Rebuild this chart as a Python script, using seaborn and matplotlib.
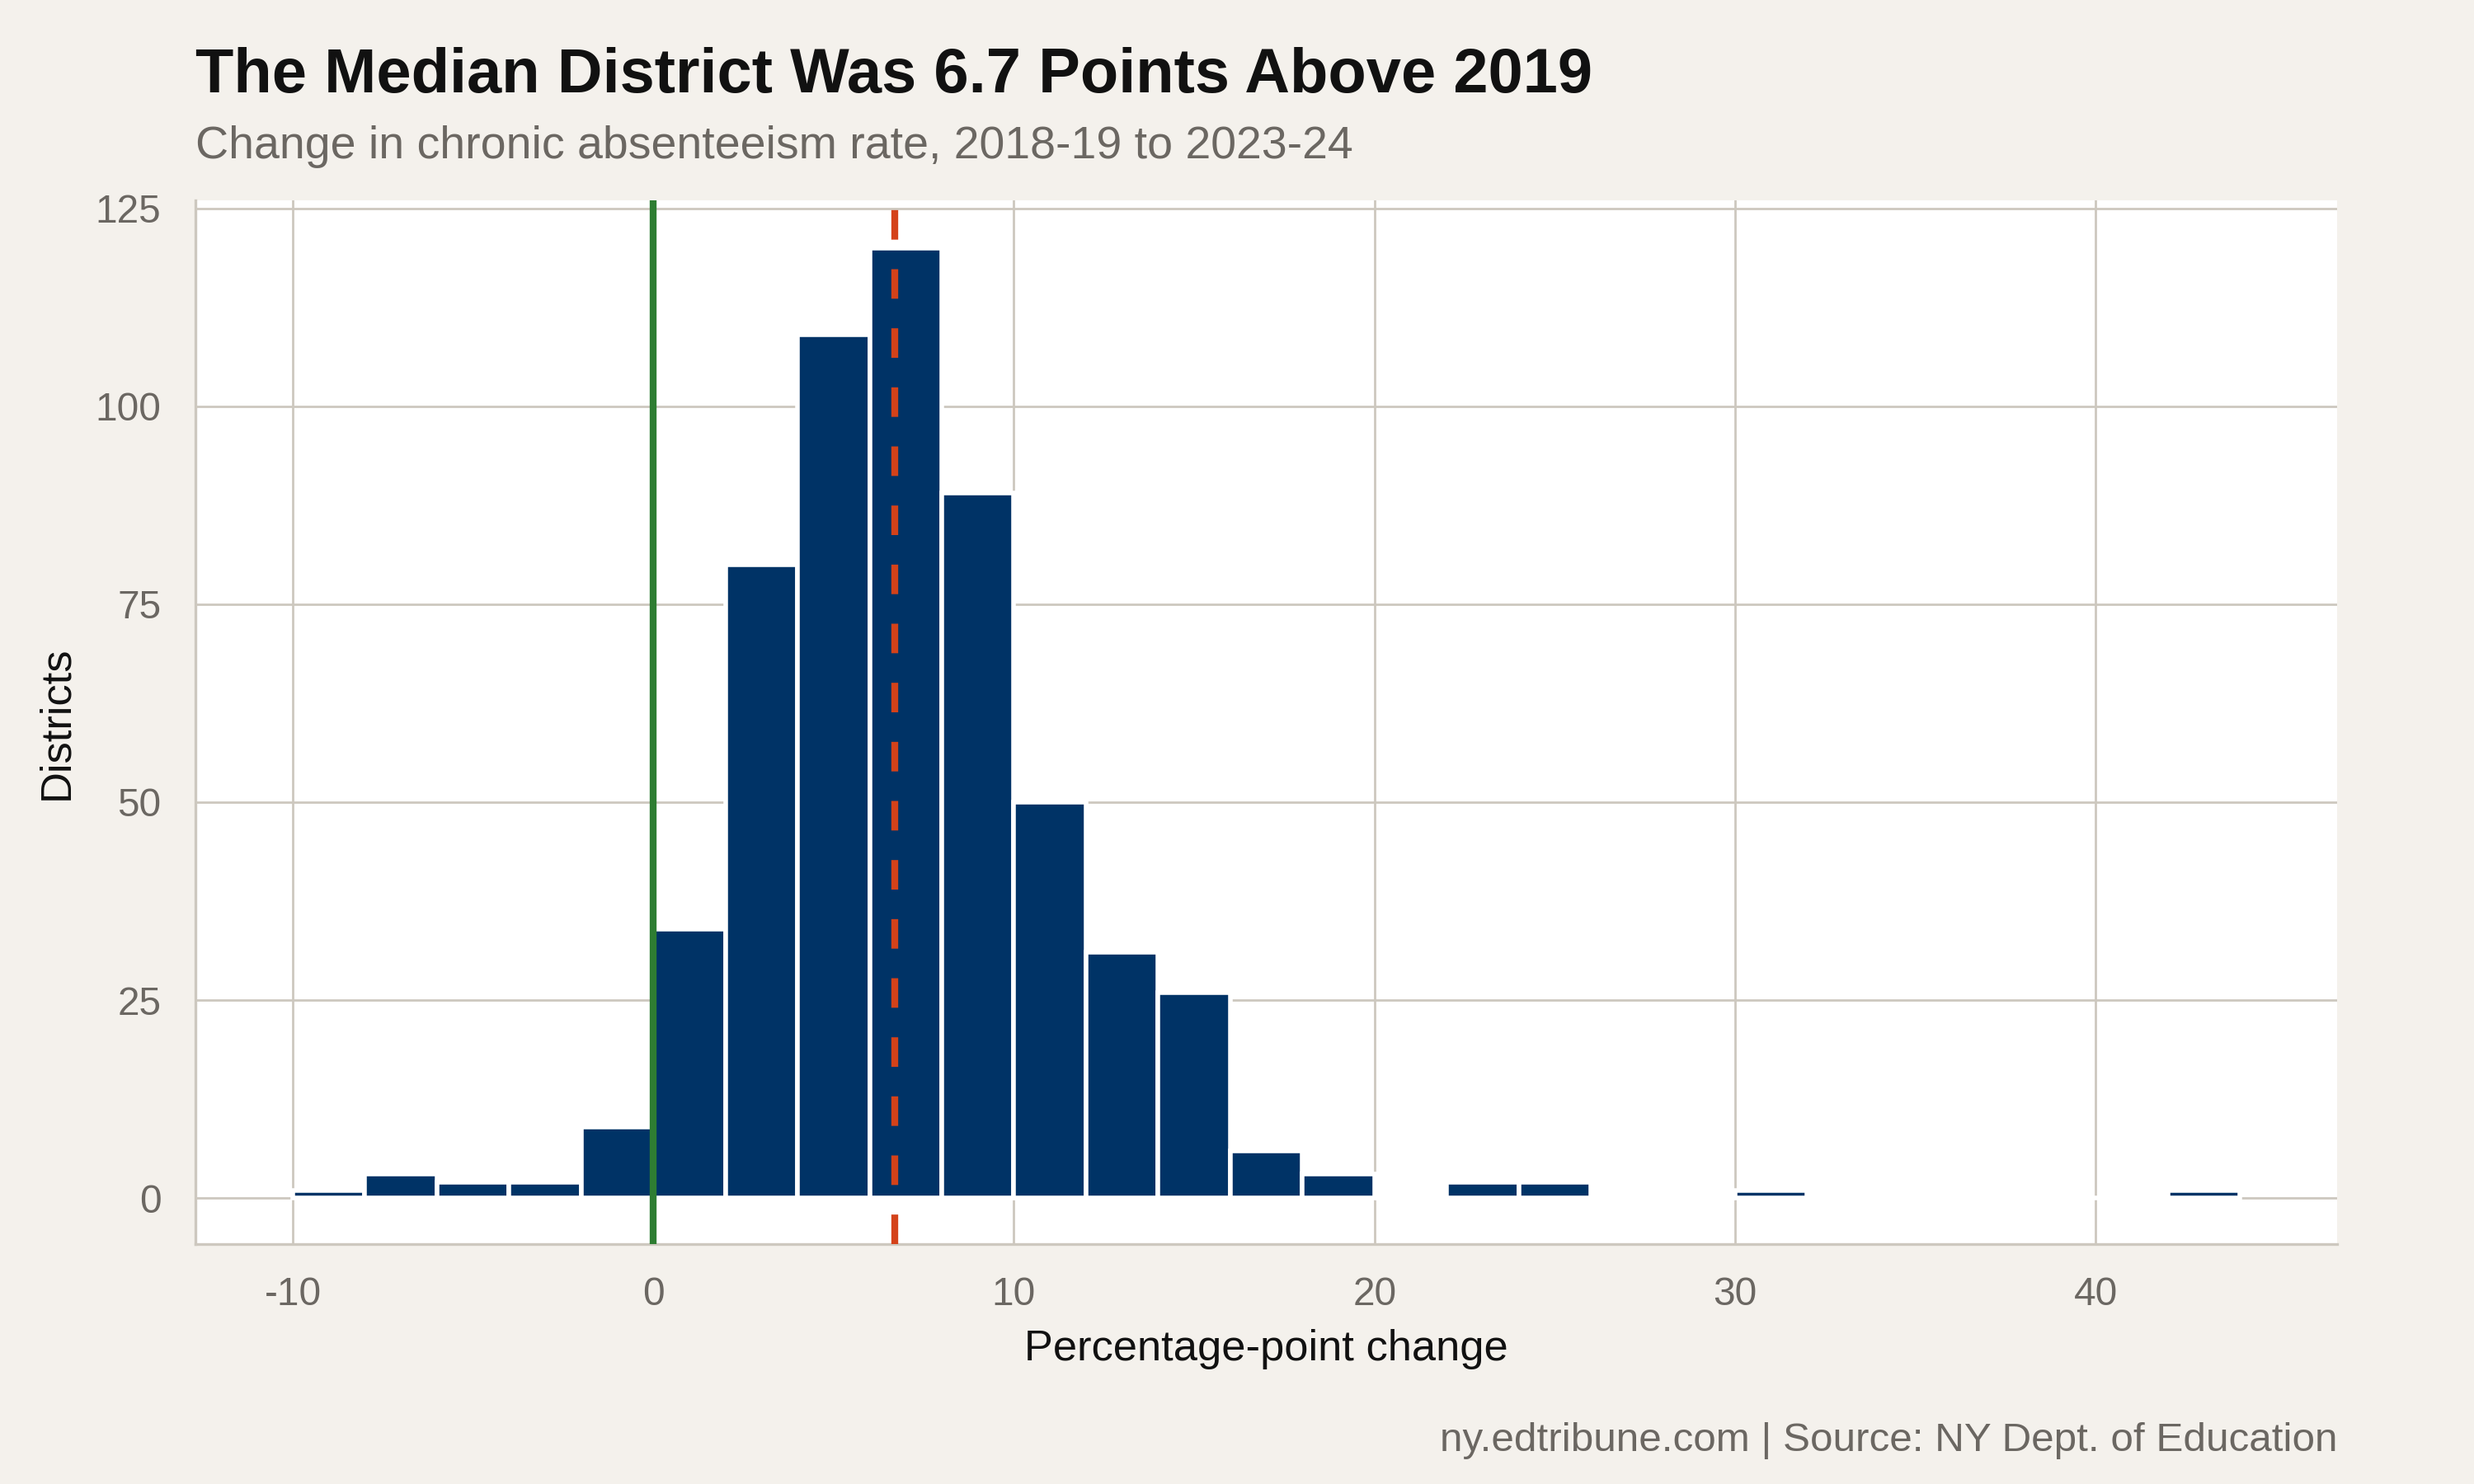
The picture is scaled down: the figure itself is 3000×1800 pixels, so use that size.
import matplotlib
matplotlib.use("Agg")
import matplotlib.pyplot as plt
import seaborn as sns
import numpy as np

# ---- data ----
bin_edges = [-10, -8, -6, -4, -2, 0, 2, 4, 6, 8, 10, 12, 14, 16, 18, 20, 22, 24, 26,
             28, 30, 32, 34, 36, 38, 40, 42, 44]
counts = [1, 3, 2, 2, 9, 34, 80, 109, 120, 89, 50, 31, 26, 6, 3, 0, 2, 2, 0,
          0, 1, 0, 0, 0, 0, 0, 1]
median_change = 6.7
x_ticks = [-10, 0, 10, 20, 30, 40]
y_ticks = [0, 25, 50, 75, 100, 125]

title = "The Median District Was 6.7 Points Above 2019"
subtitle = "Change in chronic absenteeism rate, 2018-19 to 2023-24"
x_label = "Percentage-point change"
y_label = "Districts"
caption = "ny.edtribune.com | Source: NY Dept. of Education"

# ---- style ----
BG = "#F4F1EC"
GRID = "#CDC8BF"
NAVY = "#003366"
GREEN = "#2E7D32"
RED = "#D4421A"
GREYTXT = "#6B6762"

sns.set_theme(style="white")
plt.rcParams["font.family"] = ["Liberation Sans", "DejaVu Sans"]

fig = plt.figure(figsize=(15, 9), dpi=200, facecolor=BG)
ax = fig.add_axes([0.079, 0.1617, 0.9447 - 0.079, 0.865 - 0.1617])
ax.set_facecolor("white")
ax.set_axisbelow(True)

centers = [(a + b) / 2 for a, b in zip(bin_edges[:-1], bin_edges[1:])]
sns.histplot(x=centers, weights=counts, bins=bin_edges, ax=ax,
             color=NAVY, edgecolor="white", linewidth=2.0, alpha=1.0)

ax.axvline(0, color=GREEN, lw=3.0, zorder=5)
ax.axvline(median_change, color=RED, lw=3.0, dashes=(4.3, 4.3), zorder=5)

ax.set_xlim(-12.7, 46.7)
ax.set_ylim(-5.8, 126)
ax.set_xticks(x_ticks)
ax.set_yticks(y_ticks)
ax.set_xticklabels([str(t) for t in x_ticks])
ax.grid(True, color=GRID, lw=1.0)

for s in ["top", "right"]:
    ax.spines[s].set_visible(False)
for s in ["left", "bottom"]:
    ax.spines[s].set_color(GRID)
    ax.spines[s].set_linewidth(1.2)

ax.tick_params(axis="both", length=5, width=1.0, color=GRID,
               labelsize=17.2, labelcolor=GREYTXT)
ax.tick_params(axis="x", pad=9)
ax.tick_params(axis="y", pad=10)
ax.set_xlabel("")
ax.set_ylabel("")

fig.text(0.5117, 0.0833, x_label, ha="center", va="baseline", fontsize=18.9, color="#111111")
fig.text(0.023, 0.513, y_label, ha="center", va="center", rotation=90, fontsize=18.9, color="#111111")

fig.text(0.079, 0.9378, title, ha="left", va="baseline", fontsize=27.3, fontweight="bold", color="#111111")
fig.text(0.079, 0.8933, subtitle, ha="left", va="baseline", fontsize=20, color=GREYTXT)
fig.text(0.9447, 0.0222, caption, ha="right", va="baseline", fontsize=17.8, color=GREYTXT)

fig.savefig("out.png", dpi=200, facecolor=BG)
